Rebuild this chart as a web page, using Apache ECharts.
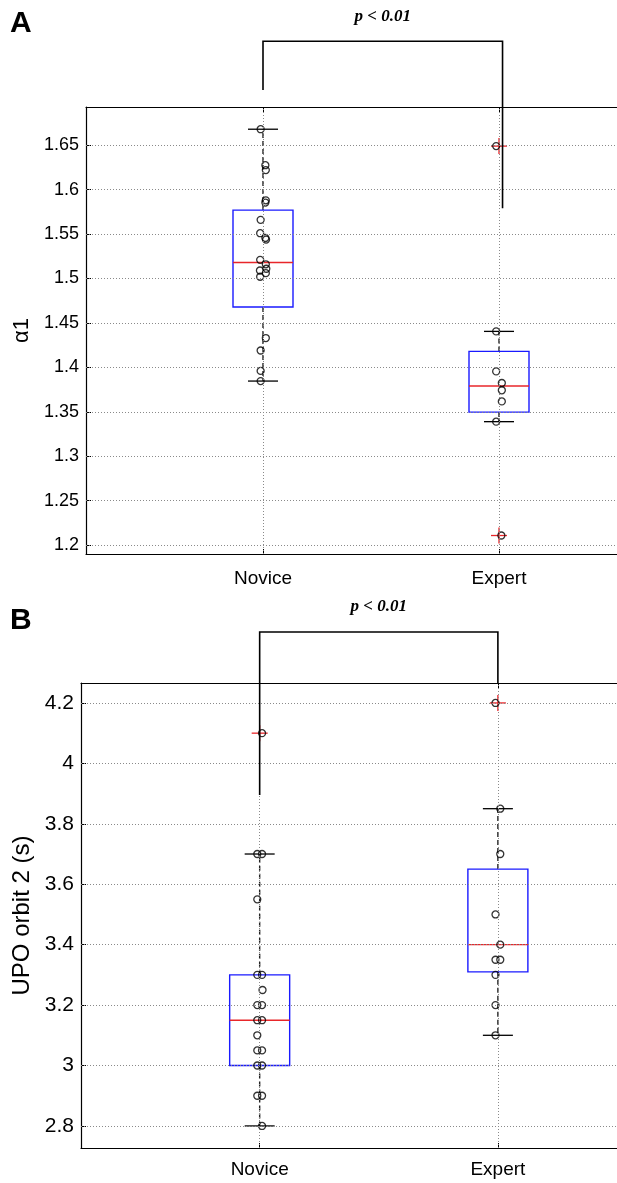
<!DOCTYPE html>
<html>
<head>
<meta charset="utf-8">
<script src="https://cdn.jsdelivr.net/npm/echarts@6/dist/echarts.min.js"></script>
<style>
  html, body { margin: 0; padding: 0; background: #fff; }
  #main { width: 617px; height: 1183px; }
</style>
</head>
<body>
<div id="main"></div>
<script>
const groups = ['Novice', 'Expert'];

// panel A : alpha 1
const alphaTicks = [1.2, 1.25, 1.3, 1.35, 1.4, 1.45, 1.5, 1.55, 1.6, 1.65];
const alphaNovice = [1.668, 1.6275, 1.622, 1.588, 1.5855, 1.566, 1.551, 1.5456, 1.5438, 1.521,
  1.516, 1.509, 1.511, 1.506, 1.502, 1.433, 1.419, 1.396, 1.3846];
const alphaNoviceJitter = [-0.01, 0.01, 0.012, 0.012, 0.01, -0.01, -0.012, 0.01, 0.013, -0.012,
  0.012, -0.013, 0.014, 0.012, -0.012, 0.012, -0.01, -0.01, -0.01];
const alphaExpert = [1.649, 1.4405, 1.3955, 1.3824, 1.3742, 1.3617, 1.3389, 1.2108];
const alphaExpertJitter = [-0.012, -0.012, -0.012, 0.012, 0.012, 0.012, -0.012, 0.01];
// [lower whisker, q1, median, q3, upper whisker]
const alphaBoxNovice = [1.3846, 1.468, 1.518, 1.577, 1.668];
const alphaBoxExpert = [1.3389, 1.3497, 1.379, 1.418, 1.4405];
const alphaOutNovice = [];
const alphaOutExpert = [1.649, 1.2108];
const alphaRange = [1.19, 1.693];

// panel B : UPO orbit 2
const upoTicks = [2.8, 3, 3.2, 3.4, 3.6, 3.8, 4, 4.2];
const upoNovice = [4.1, 3.7, 3.7, 3.55, 3.3, 3.3, 3.25, 3.2, 3.2, 3.15, 3.15, 3.1,
  3.05, 3.05, 3.0, 3.0, 2.9, 2.9, 2.8];
const upoNoviceJitter = [0.01, -0.01, 0.01, -0.01, -0.01, 0.01, 0.012, -0.01, 0.01, -0.01, 0.01, -0.01,
  -0.01, 0.01, -0.01, 0.01, -0.01, 0.01, 0.01];
const upoExpert = [4.2, 3.85, 3.7, 3.5, 3.4, 3.35, 3.35, 3.3, 3.2, 3.1];
const upoExpertJitter = [-0.01, 0.01, 0.01, -0.01, 0.01, -0.01, 0.01, -0.01, -0.01, -0.01];
const upoBoxNovice = [2.8, 3.0, 3.15, 3.3, 3.7];
const upoBoxExpert = [3.1, 3.31, 3.4, 3.65, 3.85];
const upoOutNovice = [4.1];
const upoOutExpert = [4.2];
const upoRange = [2.727, 4.266];

// significance brackets: [x left, x right, top, left leg end, right leg end]
const bracketA = [1, 2.015, 1.767, 1.712, 1.579];
const bracketB = [1, 2, 4.435, 3.895, 4.266];
const pText = 'p < 0.01';

const BLACK = '#000';
const fontFamily = '"Liberation Sans", Arial, sans-serif';

function renderBox(params, api) {
  const x = api.value(0);
  const lo = api.coord([x, api.value(1)]);
  const q1 = api.coord([x, api.value(2)]);
  const med = api.coord([x, api.value(3)]);
  const q3 = api.coord([x, api.value(4)]);
  const hi = api.coord([x, api.value(5)]);
  const cx = lo[0];
  const bw = 30, cw = 15;
  const dash = { stroke: '#222', lineWidth: 1.4, lineDash: [5, 3] };
  return {
    type: 'group',
    children: [
      { type: 'line', shape: { x1: cx, y1: q3[1], x2: cx, y2: hi[1] }, style: dash },
      { type: 'line', shape: { x1: cx, y1: q1[1], x2: cx, y2: lo[1] }, style: dash },
      { type: 'line', shape: { x1: cx - cw, y1: hi[1], x2: cx + cw, y2: hi[1] }, style: { stroke: BLACK, lineWidth: 1.3 } },
      { type: 'line', shape: { x1: cx - cw, y1: lo[1], x2: cx + cw, y2: lo[1] }, style: { stroke: BLACK, lineWidth: 1.3 } },
      { type: 'rect', shape: { x: cx - bw, y: q3[1], width: bw * 2, height: q1[1] - q3[1] },
        style: { fill: 'none', stroke: '#1a1aff', lineWidth: 1.4 } },
      { type: 'line', shape: { x1: cx - bw, y1: med[1], x2: cx + bw, y2: med[1] }, style: { stroke: '#e8262a', lineWidth: 1.4 } }
    ]
  };
}

function renderPlus(params, api) {
  const c = api.coord([api.value(0), api.value(1)]);
  const s = 8;
  const st = { stroke: '#e8262a', lineWidth: 1.3 };
  return {
    type: 'group',
    children: [
      { type: 'line', shape: { x1: c[0] - s, y1: c[1], x2: c[0] + s, y2: c[1] }, style: st },
      { type: 'line', shape: { x1: c[0], y1: c[1] - s, x2: c[0], y2: c[1] + s }, style: st }
    ]
  };
}

function renderBracket(params, api) {
  const top1 = api.coord([api.value(0), api.value(2)]);
  const top2 = api.coord([api.value(1), api.value(2)]);
  const leg1 = api.coord([api.value(0), api.value(3)]);
  const leg2 = api.coord([api.value(1), api.value(4)]);
  return {
    type: 'group',
    children: [
      { type: 'polyline', shape: { points: [leg1, top1, top2, leg2] },
        style: { stroke: BLACK, lineWidth: 1.6, fill: 'none' } },
      { type: 'text', x: (top1[0] + top2[0]) / 2, y: top1[1] - 25,
        style: { text: pText, font: 'italic bold 17px "Liberation Serif", "Times New Roman", serif',
          fill: BLACK, align: 'center', verticalAlign: 'middle' } }
    ]
  };
}

function points(values, jitter, x) {
  return values.map((v, i) => [x + jitter[i], v]);
}

function gridMarks(ticks) {
  return {
    silent: true,
    symbol: ['none', 'none'],
    label: { show: false },
    lineStyle: { color: '#8a8a8a', width: 1, type: [1, 2] },
    data: ticks.map(v => ({ yAxis: v })).concat([{ xAxis: 1 }, { xAxis: 2 }])
  };
}

function xAxisFor(gridIndex, position, fontSize, margin) {
  return {
    type: 'value', gridIndex: gridIndex, position: position, min: 0.25, max: 2.5,
    axisLine: { show: true, onZero: false, lineStyle: { color: BLACK, width: 1.2 } },
    splitLine: { show: false },
    axisTick: { show: true, inside: true, length: 5, customValues: [1, 2], lineStyle: { color: BLACK } },
    axisLabel: {
      show: position === 'bottom',
      customValues: [1, 2], formatter: v => groups[Math.round(v) - 1],
      fontSize: fontSize, color: BLACK, margin: margin, fontFamily: fontFamily
    }
  };
}

function yAxisFor(gridIndex, range, ticks, name, nameGap, fontSize, nameSize) {
  return {
    type: 'value', gridIndex: gridIndex, min: range[0], max: range[1],
    axisLine: { show: true, onZero: false, lineStyle: { color: BLACK, width: 1.2 } },
    splitLine: { show: false },
    axisTick: { show: true, inside: true, length: 5, customValues: ticks, lineStyle: { color: BLACK } },
    axisLabel: { customValues: ticks, fontSize: fontSize, color: BLACK, margin: 7, fontFamily: fontFamily },
    name: name, nameLocation: 'middle', nameGap: nameGap,
    nameTextStyle: { fontSize: nameSize, color: BLACK, fontFamily: fontFamily }
  };
}

function panelSeries(idx, novice, noviceJ, expert, expertJ, boxN, boxE, outN, outE, ticks, bracket) {
  const circles = points(novice, noviceJ, 1).concat(points(expert, expertJ, 2));
  const outliers = outN.map(v => [1, v]).concat(outE.map(v => [2, v]));
  const xi = idx * 2;
  return [
    {
      type: 'custom', xAxisIndex: xi, yAxisIndex: idx, clip: false, z: 2,
      renderItem: renderBox,
      data: [[1].concat(boxN), [2].concat(boxE)]
    },
    {
      type: 'scatter', xAxisIndex: xi, yAxisIndex: idx, z: 4,
      symbol: 'circle', symbolSize: 7,
      itemStyle: { color: 'rgba(0,0,0,0)', borderColor: BLACK, borderWidth: 1.3 },
      data: circles,
      markLine: gridMarks(ticks)
    },
    {
      type: 'custom', xAxisIndex: xi, yAxisIndex: idx, clip: false, z: 3,
      renderItem: renderPlus,
      data: outliers
    },
    {
      type: 'custom', xAxisIndex: xi, yAxisIndex: idx, clip: false, z: 5,
      renderItem: renderBracket,
      data: [bracket]
    }
  ];
}

const chart = echarts.init(document.getElementById('main'), null, { renderer: 'canvas' });
const option = {
  animation: false,
  backgroundColor: '#fff',
  grid: [
    { left: 86, right: -3, top: 107, bottom: 629 },
    { left: 81, right: -4, top: 683, bottom: 35 }
  ],
  xAxis: [
    xAxisFor(0, 'bottom', 19, 15), xAxisFor(0, 'top', 19, 15),
    xAxisFor(1, 'bottom', 19, 12), xAxisFor(1, 'top', 19, 12)
  ],
  yAxis: [
    yAxisFor(0, alphaRange, alphaTicks, 'α1', 50, 18, 22),
    yAxisFor(1, upoRange, upoTicks, 'UPO orbit 2 (s)', 42, 21, 24)
  ],
  graphic: [
    { type: 'text', left: 10, top: 9, style: { text: 'A', font: 'bold 30px ' + fontFamily, fill: BLACK } },
    { type: 'text', left: 10, top: 606, style: { text: 'B', font: 'bold 30px ' + fontFamily, fill: BLACK } }
  ],
  series: panelSeries(0, alphaNovice, alphaNoviceJitter, alphaExpert, alphaExpertJitter,
      alphaBoxNovice, alphaBoxExpert, alphaOutNovice, alphaOutExpert, alphaTicks, bracketA)
    .concat(panelSeries(1, upoNovice, upoNoviceJitter, upoExpert, upoExpertJitter,
      upoBoxNovice, upoBoxExpert, upoOutNovice, upoOutExpert, upoTicks, bracketB))
};
chart.setOption(option);
</script>
</body>
</html>
